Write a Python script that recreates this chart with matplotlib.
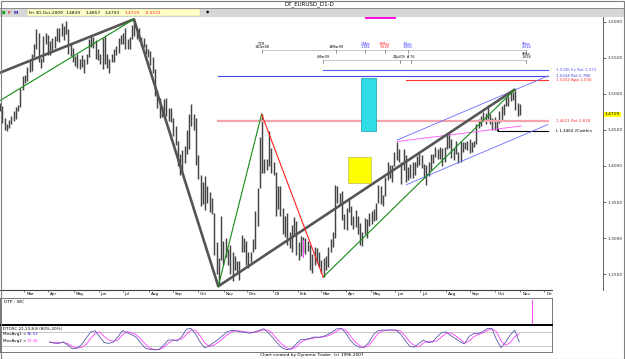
import numpy as np
import matplotlib
matplotlib.use('Agg')
import matplotlib.pyplot as plt
from matplotlib.patches import Rectangle
from matplotlib.transforms import blended_transform_factory as blend

# ---------------- data ----------------
START = '2008-01-31'          # first daily bar (weekday index 0)
# price bars, one entry per two trading days (high / low)
bar_high = [
 1.4870,1.4830,1.4660,1.4590,1.4640,1.4700,1.4760,1.4820,1.4850,1.5090,1.5250,
 1.5260,1.5370,1.5460,1.5560,1.5690,1.5905,1.5850,1.5500,1.5800,1.5840,1.5820,
 1.5730,1.5780,1.5800,1.5920,1.5910,1.5980,1.5950,1.6019,1.5900,1.5690,1.5640,
 1.5530,1.5560,1.5490,1.5540,1.5490,1.5560,1.5770,1.5800,1.5790,1.5750,1.5620,
 1.5560,1.5780,1.5800,1.5560,1.5490,1.5550,1.5620,1.5660,1.5780,1.5820,
 1.5840,1.5910,1.5760,1.5790,1.5960,1.6038,1.5900,1.5920,1.5790,1.5780,1.5700,1.5620,
 1.5590,1.5520,1.5350,1.5050,1.4940,1.4830,1.4930,1.4940,1.4800,1.4800,
 1.4660,1.4550,1.4350,1.4160,1.4220,1.4280,1.4500,1.4720,1.4867,1.4720,1.4660,
 1.4150,1.3880,1.3780,1.3860,1.3720,1.3640,1.3550,1.3350,1.2950,1.2720,1.3300,1.2960,
 1.3000,1.2850,1.2900,1.2800,1.2750,1.2680,1.2680,1.3040,1.3000,1.2960,
 1.2800,1.2810,1.2980,1.3380,1.3700,1.4400,1.4720,1.4100,1.4100,1.4490,1.4250,
 1.4050,1.3920,1.3720,1.3720,1.3420,1.3300,1.3350,1.3090,1.3180,1.3290,1.3240,
 1.2950,1.3030,1.3010,1.3000,1.2960,1.2900,1.2780,1.2870,1.2860,1.2800,
 1.2700,1.2720,1.2750,1.2870,1.2980,1.3080,1.3738,1.3720,1.3620,1.3650,1.3330,
 1.3420,1.3560,1.3440,1.3300,1.3390,1.3300,1.3210,1.3090,1.3280,1.3270,1.3350,
 1.3380,1.3400,1.3490,1.3740,1.3720,1.3600,1.3850,1.4050,1.4010,1.4020,1.4200,
 1.4340,1.4240,1.4060,1.4230,1.4150,1.3990,1.4030,1.4050,1.4060,1.4140,1.4180,
 1.4150,1.4030,1.4010,1.4050,1.4160,1.4160,1.4270,1.4240,1.4260,1.4250,1.4270,
 1.4450,1.4450,1.4370,1.4250,1.4350,1.4190,1.4350,1.4340,1.4340,1.4350,1.4370,
 1.4330,1.4350,1.4580,1.4650,1.4700,1.4750,1.4740,1.4843,1.4720,1.4670,1.4680,
 1.4620,1.4760,1.4840,1.4860,1.4960,1.4970,1.5050,1.5030,1.5061,1.4880,1.4857]
bar_low = [
 1.4760,1.4600,1.4500,1.4480,1.4530,1.4580,1.4630,1.4650,1.4760,1.4820,1.5050,
 1.5150,1.5180,1.5310,1.5320,1.5520,1.5620,1.5440,1.5360,1.5450,1.5690,1.5540,
 1.5540,1.5610,1.5640,1.5740,1.5720,1.5800,1.5750,1.5830,1.5560,1.5530,1.5440,
 1.5390,1.5360,1.5340,1.5370,1.5290,1.5410,1.5520,1.5650,1.5640,1.5480,1.5470,
 1.5410,1.5350,1.5420,1.5360,1.5285,1.5450,1.5450,1.5540,1.5570,1.5690,
 1.5700,1.5620,1.5620,1.5620,1.5760,1.5800,1.5770,1.5730,1.5660,1.5650,1.5550,1.5510,
 1.5400,1.5290,1.4970,1.4810,1.4660,1.4680,1.4710,1.4690,1.4630,1.4610,
 1.4420,1.4290,1.4000,1.3880,1.3920,1.4040,1.4160,1.4230,1.4560,1.4500,1.4020,
 1.3820,1.3440,1.3470,1.3390,1.3480,1.3360,1.3330,1.2760,1.2500,1.2330,1.2700,1.2620,
 1.2740,1.2630,1.2500,1.2400,1.2560,1.2530,1.2420,1.2800,1.2810,1.2620,
 1.2580,1.2660,1.2800,1.2850,1.3160,1.3700,1.3900,1.3900,1.3950,1.4000,1.3900,
 1.3880,1.3300,1.3400,1.3300,1.3050,1.3010,1.2900,1.2860,1.2810,1.3050,1.2770,
 1.2700,1.2750,1.2800,1.2780,1.2820,1.2560,1.2510,1.2620,1.2650,1.2600,
 1.2520,1.2457,1.2550,1.2600,1.2800,1.2880,1.3000,1.3480,1.3460,1.3250,1.3120,
 1.3110,1.3360,1.3180,1.3130,1.3150,1.3060,1.2900,1.2890,1.3050,1.3000,1.3170,
 1.3200,1.3230,1.3250,1.3480,1.3470,1.3440,1.3580,1.3800,1.3830,1.3780,1.4000,
 1.4080,1.4050,1.3750,1.3950,1.3780,1.3810,1.3830,1.3830,1.3870,1.3980,1.4010,
 1.3970,1.3840,1.3740,1.3860,1.3940,1.4040,1.4120,1.4100,1.4100,1.4000,1.4050,
 1.4230,1.4250,1.4110,1.4080,1.4160,1.4040,1.4050,1.4200,1.4230,1.4220,1.4180,
 1.4200,1.4260,1.4300,1.4530,1.4550,1.4640,1.4580,1.4650,1.4580,1.4500,1.4500,
 1.4480,1.4600,1.4630,1.4710,1.4840,1.4830,1.4900,1.4920,1.4780,1.4700,1.4703]

# swing lines (date, price)
gray_dates = ['2008-01-31', '2008-07-15', '2008-10-27', '2009-10-26']
gray_prices = [1.5292, 1.6038, 1.2330, 1.5061]
green_legs = [(('2008-01-31', 1.4903), ('2008-07-15', 1.6038)),
              (('2008-10-27', 1.2330), ('2008-12-18', 1.4720)),
              (('2009-03-04', 1.2457), ('2009-10-26', 1.5061))]
red_leg = (('2008-12-18', 1.4720), ('2009-03-04', 1.2457))

# projection levels: (start date, price, label, colour)
PROJ_END = '2009-12-04'
levels = [('2009-03-04', 1.5336, '1.5336 Ex Ret 1.272', '#5a5aff'),
          ('2008-10-27', 1.5244, '1.5244 Ret 0.786', '#4646e6'),
          ('2009-06-15', 1.5194, '1.5202 App 1.000', '#ff3030'),
          ('2008-10-27', 1.4621, '1.4621 Ret 0.618', '#ff3030'),
          ('2009-10-05', 1.4480, 'L 1.4464 2Cwithin', '#000000')]
channel_upper = (('2009-06-03', 1.4361), (PROJ_END, 1.5250))
channel_lower = (('2009-06-15', 1.3740), (PROJ_END, 1.4575))
magenta_line = (('2009-06-03', 1.4340), ('2009-11-03', 1.4556))
magenta_mark = ('2009-02-06', 1.2736, 1.2972)

cyan_box = ('2009-04-20', '2009-05-07', 1.4486, 1.5222)
yellow_box = ('2009-04-03', '2009-05-01', 1.3764, 1.4125)
top_bar = ('2009-04-24', '2009-06-02')

row1 = [('TCR\n18Dec08', '2008-12-18', 'k'), ('19Mar09', '2009-03-19', 'k'),
        ('24Apr\n1.382', '2009-04-24', '#3030ff'), ('19May\n1.618', '2009-05-19', '#ff2020'),
        ('16Jun\n1.000', '2009-06-16', '#3030ff'), ('9Nov\n2.618', '2009-11-09', '#3030ff')]
row2 = [('4Mar09', '2009-03-04', 'k'), ('23Jul09', '2009-06-05', 'k'),
        ('A T6', '2009-06-19', 'k'), ('9Nov\n1.618', '2009-11-09', 'k')]
row1_price, row2_price = 1.5611, 1.5472

months = ['Mar', 'Apr', 'May', 'Jun', 'Jul', 'Aug', 'Sep', 'Oct', 'Nov', 'Dec', '09',
          'Feb', 'Mar', 'Apr', 'May', 'Jun', 'Jul', 'Aug', 'Sep', 'Oct', 'Nov', 'Dec']
month_dates = ['2008-03-03', '2008-04-01', '2008-05-01', '2008-06-02', '2008-07-01',
               '2008-08-01', '2008-09-01', '2008-10-01', '2008-11-03', '2008-12-01',
               '2009-01-01', '2009-02-02', '2009-03-02', '2009-04-01', '2009-05-01',
               '2009-06-01', '2009-07-01', '2009-08-03', '2009-09-01', '2009-10-01',
               '2009-11-02', '2009-12-01']
price_ticks = [1.25, 1.30, 1.35, 1.40, 1.45, 1.50, 1.55, 1.60]
last_close = 1.4719
header_black = ['Fri 30-Oct-2009', '1.4839', '1.4857', '1.4703']
header_red = ['1.4719', '-0.0121']
dtp_mark = '2009-11-16'

# oscillator (sampled every 4 bars from OSC_START)
OSC_START = '2008-04-02'
osc_fast = [37,31,30,37,22,6,9,24,53,81,
            87,60,34,30,37,60,88,78,70,58,
            32,9,3,1,3,22,45,46,41,60,
            94,98,73,37,10,20,34,48,66,83,
            89,86,82,79,76,82,89,96,77,55,
            30,10,2,6,26,46,48,52,59,58,
            61,70,82,96,98,76,43,23,12,14,
            33,69,87,90,90,91,90,72,43,17,
            13,30,45,34,37,60,79,82,65,52,
            38,28,62,74,75,83,97,98,48,11,
            35,67,90,37]
osc_slow = [35,35,33,34,29,17,9,12,25,52,
            75,82,60,45,40,45,69,83,78,69,
            50,27,9,3,2,12,30,43,46,50,
            70,90,90,65,33,17,22,35,52,70,
            83,88,85,82,80,80,85,92,89,72,
            47,26,10,4,13,33,45,50,54,57,
            59,64,73,86,96,90,63,38,20,12,
            20,46,74,86,89,90,89,86,63,36,
            20,15,32,40,38,42,60,76,77,65,
            50,32,40,60,70,77,88,96,83,42,
            22,33,60,73]

# ---------------- drawing ----------------
W, H = 625.0, 359.0
PPB = 1.14                 # pixels per daily bar
XL = 0.6 / PPB


def box(x0, y0, x1, y1):
    return [x0 / W, 1 - y1 / H, (x1 - x0) / W, (y1 - y0) / H]


def bi(d):
    return float(np.busday_count(np.datetime64(START), np.datetime64(d)))


plt.rcParams['font.family'] = ['DejaVu Sans']
fig = plt.figure(figsize=(6.25, 3.59), dpi=100)
fig.patch.set_facecolor('white')

# header
fig.patches.append(Rectangle((0, 1 - 17 / H), 1, 9 / H, transform=fig.transFigure,
                             fc='#d6d6d6', ec='none'))
fig.patches.append(Rectangle((27 / W, 1 - 16 / H), 173 / W, 7 / H, transform=fig.transFigure,
                             fc='#ffffc8', ec='#c8c8a0', lw=0.3))
fig.text(309 / W, 1 - 4 / H, 'DT_EURUSD_D1-D', fontsize=4, ha='center', va='center')
fig.lines.append(plt.Line2D([0, 1], [1 - 8 / H] * 2, transform=fig.transFigure,
                            color='#808080', lw=0.6))
fig.text(2 / W, 1 - 12.7 / H, '■', fontsize=2.6, color='#10a010', va='center')
fig.text(8 / W, 1 - 12.7 / H, 'F', fontsize=3.2, color='#e02020', va='center', weight='bold')
fig.text(14 / W, 1 - 12.7 / H, 'M', fontsize=3.2, color='#2020c0', va='center', weight='bold')
for s, xp in zip(header_black, [29, 66, 86, 105]):
    fig.text(xp / W, 1 - 12.7 / H, s, fontsize=3.2, va='center')
for s, xp in zip(header_red, [125, 145]):
    fig.text(xp / W, 1 - 12.7 / H, s, fontsize=3.2, va='center', color='#ff2020')
fig.text(206 / W, 1 - 12.7 / H, '◆', fontsize=3.2, va='center')

# main price panel
ax = fig.add_axes(box(0, 17, 603, 290))
ax.set_xlim(XL, XL + 603 / PPB)
ax.set_ylim(1.2278, 1.6069)
for s in ['left', 'top', 'bottom']:
    ax.spines[s].set_visible(False)
ax.spines['right'].set_color('#606060')
ax.spines['right'].set_linewidth(0.7)
ax.set_xticks([])
ax.yaxis.tick_right()
ax.set_yticks(price_ticks)
ax.set_yticklabels(['%.4f' % t for t in price_ticks])
ax.tick_params(axis='y', labelsize=3.2, length=2, width=0.5, pad=1, colors='#303030')

n = len(bar_high)
pos = 2 * np.arange(n) + 0.5
ax.vlines(pos, bar_low, bar_high, colors='#444444', lw=1.05, zorder=2)

ax.plot([bi(d) for d in gray_dates], gray_prices, color='#555555', lw=1.9,
        solid_capstyle='round', zorder=4)
for (d0, p0), (d1, p1) in green_legs:
    ax.plot([bi(d0), bi(d1)], [p0, p1], color='#148c14', lw=0.8, zorder=5)
(d0, p0), (d1, p1) = red_leg
ax.plot([bi(d0), bi(d1)], [p0, p1], color='#ff2020', lw=0.8, zorder=5)

xe = bi(PROJ_END)
for d, p, lab, c in levels:
    lw = 0.8
    col = c
    if 'Ret 0.618' in lab:
        col, lw = '#f4a4ac', 1.6
    ax.plot([bi(d), xe], [p, p], color=col, lw=lw, zorder=3)
    ax.annotate(lab, (xe, p), xytext=(8, 0), textcoords='offset pixels', fontsize=2.9,
                color=c, va='center', ha='left', annotation_clip=False)
black_d = levels[-1][0]
ax.plot([bi(black_d), bi(black_d)], [levels[-1][1], levels[-1][1] + 0.004], color='k', lw=0.7)

for (da, pa), (db, pb) in (channel_upper, channel_lower):
    ax.plot([bi(da), bi(db)], [pa, pb], color='#6a6aff', lw=0.6, zorder=3)
(da, pa), (db, pb) = magenta_line
ax.plot([bi(da), bi(db)], [pa, pb], color='#ff50ff', lw=0.6, zorder=3)
ax.plot([bi(magenta_mark[0])] * 2, magenta_mark[1:], color='#ff40ff', lw=0.7, zorder=3)

d0, d1, p0, p1 = cyan_box
ax.add_patch(Rectangle((bi(d0), p0), bi(d1) - bi(d0), p1 - p0, fc='#30dce6',
                       ec='#1a9aa8', lw=0.5, zorder=6))
d0, d1, p0, p1 = yellow_box
ax.add_patch(Rectangle((bi(d0), p0), bi(d1) - bi(d0), p1 - p0, fc='#ffff00',
                       ec='#9a9a40', lw=0.5, ls=(0, (2, 1)), zorder=6))
tb = blend(ax.transData, ax.transAxes)
ax.add_patch(Rectangle((bi(top_bar[0]), 1 - 1.5 / 273), bi(top_bar[1]) - bi(top_bar[0]),
                       3 / 273, transform=tb, fc='#ff10e0', ec='none', clip_on=False, zorder=7))

# time-projection rows
dp = 0.0042
for rows, rp, d_start in ((row1, row1_price, row1[0][1]), (row2, row2_price, row2[0][1])):
    ax.plot([bi(d_start), bi(rows[-1][1])], [rp, rp], color='#b4b4b4', lw=0.5, zorder=3)
    for lab, d, c in rows:
        x = bi(d)
        ax.plot([x, x], [rp, rp - dp], color='#707070', lw=0.5, zorder=3)
        ax.text(x, rp + 0.0008, lab, fontsize=2.4, color=c, ha='center', va='bottom',
                linespacing=0.9, zorder=8)

ax.annotate('%.4f' % last_close, (1.0, last_close), xycoords=('axes fraction', 'data'),
            xytext=(2, 0), textcoords='offset pixels', fontsize=3.2, va='center', ha='left',
            annotation_clip=False,
            bbox=dict(boxstyle='square,pad=0.15', fc='#ffff00', ec='none'))

# lower panels share the bar scale
xr_low = XL + 552 / PPB

axd = fig.add_axes(box(0, 290, 552, 298))
axd.set_xlim(XL, xr_low)
axd.set_ylim(0, 1)
for s in ['left', 'right', 'bottom']:
    axd.spines[s].set_visible(False)
axd.spines['top'].set_color('#404040')
axd.spines['top'].set_linewidth(0.8)
axd.set_yticks([])
mpos = [bi(d) for d in month_dates]
axd.xaxis.tick_top()
axd.set_xticks(mpos)
axd.set_xticklabels([])
axd.tick_params(axis='x', direction='in', length=1.6, width=0.5, colors='#404040')
for lab, x in zip(months, mpos):
    axd.annotate(lab, (x, 0.45), xycoords=blend(axd.transData, axd.transAxes),
                 xytext=(2, 0), textcoords='offset pixels', fontsize=3.0, va='center',
                 ha='left', annotation_clip=True, clip_on=True)

axp = fig.add_axes(box(0, 298, 552, 325))
axp.set_xlim(XL, xr_low)
axp.set_ylim(0, 1)
axp.set_xticks([])
axp.set_yticks([])
for s in axp.spines.values():
    s.set_color('#606060')
    s.set_linewidth(0.6)
axp.text(4 / 552, 0.85, 'DTP : WC', transform=axp.transAxes, fontsize=3.2, va='center')
axp.plot([bi(dtp_mark)] * 2, [0.08, 0.92], color='#ff40ff', lw=0.7)

axo = fig.add_axes(box(0, 325, 552, 352))
axo.set_xlim(XL, xr_low)
axo.set_ylim(-8.6, 113)
axo.set_xticks([])
axo.set_yticks([])
for s in axo.spines.values():
    s.set_color('#606060')
    s.set_linewidth(0.6)
axo.spines['top'].set_color('black')
axo.spines['top'].set_linewidth(1.4)
xo = bi(OSC_START) + 4 * np.arange(len(osc_fast))
axo.axhline(80, color='#b0b0b0', lw=0.5)
axo.axhline(20, color='#b0b0b0', lw=0.5)
axo.plot(xo, osc_slow, color='#ff40ff', lw=0.6)
axo.plot(xo, osc_fast, color='#5a5aa8', lw=0.6)
axo.text(3 / 552, 0.87, 'DTOSC 21,13,8,8 (80%-20%)', transform=axo.transAxes, fontsize=3.0,
         va='center')
axo.text(3 / 552, 0.67, 'MovAvg1 =', transform=axo.transAxes, fontsize=3.0, va='center')
axo.text(27 / 552, 0.67, '36.52', transform=axo.transAxes, fontsize=3.0, va='center',
         color='#3030c0')
axo.text(3 / 552, 0.42, 'MovAvg2 =', transform=axo.transAxes, fontsize=3.0, va='center')
axo.text(27 / 552, 0.42, '73.36', transform=axo.transAxes, fontsize=3.0, va='center',
         color='#ff30ff')

fig.text(312 / W, 1 - 355 / H, 'Chart created by Dynamic Trader  (c) 1996-2007',
         fontsize=3.1, ha='center', va='center')

# outer frame
fig.patches.append(Rectangle((0.5 / W, 0.5 / H), 1 - 1.5 / W, 1 - 1 / H,
                             transform=fig.transFigure, fc='none', ec='#808080', lw=0.8))

fig.savefig('out.png', dpi=100, facecolor='white')
